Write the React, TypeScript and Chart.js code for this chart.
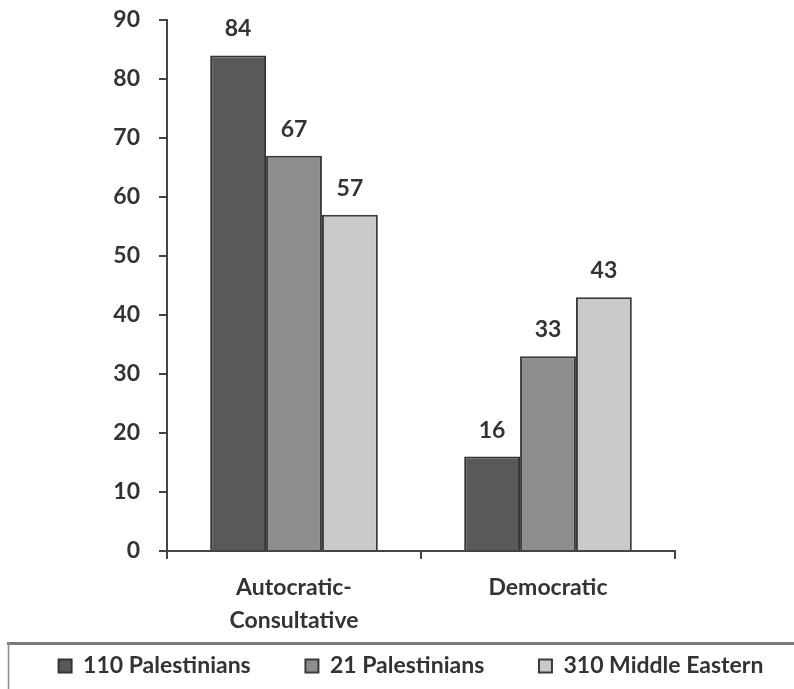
import { useEffect, useRef } from 'react';
import { Chart, registerables } from 'chart.js';

Chart.register(...registerables);

const categories: (string | string[])[] = [['Autocratic-', 'Consultative'], 'Democratic'];
const seriesNames = ['110 Palestinians', '21 Palestinians', '310 Middle Eastern'];
const palestinians110 = [84, 16];
const palestinians21 = [67, 33];
const middleEastern310 = [57, 43];
const yMin = 0;
const yMax = 90;
const yStep = 10;

const FONT = 'Lato';
const TEXT = '#333333';
const AXIS = '#444444';
const LEGEND_GAP = '        ';

const valueLabels = {
  id: 'valueLabels',
  afterDatasetsDraw(chart: any) {
    const ctx = chart.ctx;
    ctx.save();
    ctx.font = `bold 23px ${FONT}`;
    ctx.fillStyle = TEXT;
    ctx.textAlign = 'center';
    ctx.textBaseline = 'alphabetic';
    chart.data.datasets.forEach((ds: any, i: number) => {
      const meta = chart.getDatasetMeta(i);
      meta.data.forEach((bar: any, j: number) => {
        ctx.fillText(String(ds.data[j]), bar.x, bar.y - 19);
      });
    });
    ctx.restore();
  },
};

const legendFrame = {
  id: 'legendFrame',
  afterDraw(chart: any) {
    const ctx = chart.ctx;
    ctx.save();
    ctx.strokeStyle = '#7a7a7a';
    ctx.lineWidth = 3;
    ctx.beginPath();
    ctx.moveTo(7, 643.5);
    ctx.lineTo(chart.width + 2, 643.5);
    ctx.stroke();
    ctx.strokeStyle = '#8a8a8a';
    ctx.lineWidth = 1.5;
    ctx.beginPath();
    ctx.moveTo(8.5, 643);
    ctx.lineTo(8.5, chart.height + 2);
    ctx.stroke();
    ctx.restore();
  },
};

export default function App() {
  const ref = useRef<HTMLCanvasElement | null>(null);

  useEffect(() => {
    if (!ref.current) return;
    const chart = new Chart(ref.current, {
      type: 'bar',
      data: {
        labels: categories,
        datasets: [
          { label: seriesNames[0], data: palestinians110, backgroundColor: '#58595b', borderColor: '#333333', borderWidth: 2 },
          { label: seriesNames[1], data: palestinians21, backgroundColor: '#8c8d8f', borderColor: '#3a3a3a', borderWidth: 2 },
          { label: seriesNames[2], data: middleEastern310, backgroundColor: '#c9cacc', borderColor: '#3a3a3a', borderWidth: 2 },
        ],
      },
      options: {
        animation: false,
        responsive: true,
        maintainAspectRatio: false,
        layout: { padding: { left: 28, right: 0, top: 20, bottom: 1.5 } },
        datasets: { bar: { categoryPercentage: 0.66, barPercentage: 1.0 } },
        scales: {
          x: {
            offset: true,
            grid: { display: true, drawOnChartArea: false, drawTicks: true, tickLength: 8, color: AXIS, lineWidth: 2, offset: true },
            border: { display: true, color: AXIS, width: 2 },
            ticks: { color: TEXT, font: { family: FONT, size: 23, weight: 'bold', lineHeight: 1.45 }, padding: 12, maxRotation: 0 },
            afterFit: (s: any) => { s.height = 93.5; s.paddingLeft = 0; s.paddingRight = 0; },
          },
          y: {
            min: yMin,
            max: yMax,
            grid: { display: true, drawOnChartArea: false, drawTicks: true, tickLength: 8, color: AXIS, lineWidth: 2 },
            border: { display: true, color: AXIS, width: 2 },
            ticks: { stepSize: yStep, color: TEXT, font: { family: FONT, size: 23, weight: 'bold' }, padding: 19 },
            afterFit: (s: any) => { s.width = 139; s.paddingTop = 0; s.paddingBottom = 0; },
          },
          yRight: {
            position: 'right',
            display: true,
            min: yMin,
            max: yMax,
            grid: { display: false },
            border: { display: false },
            ticks: { display: false },
            afterFit: (s: any) => { s.width = 119; s.paddingTop = 0; s.paddingBottom = 0; },
          },
        },
        plugins: {
          legend: {
            position: 'bottom',
            labels: {
              boxWidth: 13,
              boxHeight: 13,
              padding: 10,
              color: TEXT,
              font: { family: FONT, size: 23, weight: 'bold' },
              generateLabels: (c: any) =>
                Chart.defaults.plugins.legend.labels.generateLabels(c).map((it: any, i: number, arr: any[]) => ({
                  ...it,
                  text: i < arr.length - 1 ? it.text + LEGEND_GAP : it.text,
                })),
            },
          },
          tooltip: { enabled: false },
        },
      },
      plugins: [valueLabels, legendFrame],
    } as any);
    return () => chart.destroy();
  }, []);

  return (
    <div style={{ position: 'fixed', left: 0, top: 0, width: 794, height: 689, background: '#ffffff' }}>
      <canvas ref={ref} />
    </div>
  );
}
